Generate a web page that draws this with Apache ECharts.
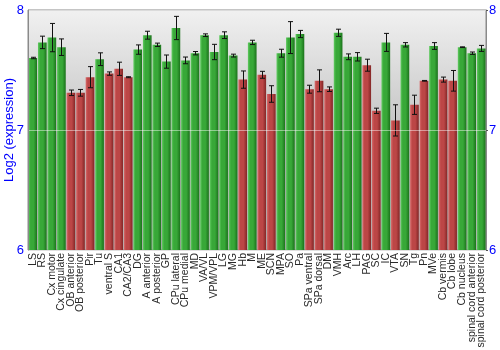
<!DOCTYPE html>
<html>
<head>
<meta charset="utf-8">
<script src="https://cdn.jsdelivr.net/npm/echarts@6/dist/echarts.min.js"></script>
<style>
  html, body { margin: 0; padding: 0; background: #ffffff; }
  #chart { width: 500px; height: 350px; }
</style>
</head>
<body>
<div id="chart"></div>
<script>
// Brain regions along the x axis
const regions = [
  'LS', 'RS', 'Cx motor', 'Cx cingulate', 'OB anterior', 'OB posterior', 'Pir', 'Tu',
  'ventral S', 'CA1', 'CA2/CA3', 'DG', 'A anterior', 'A posterior', 'GP', 'CPu lateral',
  'CPu medial', 'MD', 'VA/VL', 'VPM/VPL', 'LG', 'MG', 'Hb', 'M',
  'ME', 'SCN', 'MPA', 'SO', 'Pa', 'SPa ventral', 'SPa dorsal', 'DM',
  'VMH', 'Arc', 'LH', 'PAG', 'SC', 'IC', 'VTA', 'SN',
  'Tg', 'Pn', 'MVe', 'Cb vermis', 'Cb lobe', 'Cb nucleus', 'spinal cord anterior', 'spinal cord posterior'
];

// Mean log2 expression per region
const meanExpr = [
  7.60, 7.73, 7.77, 7.69, 7.31, 7.31, 7.44, 7.59,
  7.47, 7.51, 7.44, 7.67, 7.79, 7.71, 7.57, 7.85,
  7.58, 7.64, 7.79, 7.65, 7.79, 7.62, 7.42, 7.73,
  7.46, 7.30, 7.64, 7.77, 7.80, 7.34, 7.41, 7.34,
  7.81, 7.61, 7.61, 7.54, 7.16, 7.73, 7.08, 7.71,
  7.21, 7.41, 7.70, 7.42, 7.41, 7.69, 7.64, 7.68
];

// Half-width of the error bar (standard error)
const stdErr = [
  0.006, 0.052, 0.118, 0.069, 0.023, 0.028, 0.088, 0.053,
  0.014, 0.055, 0.004, 0.039, 0.033, 0.014, 0.055, 0.097,
  0.028, 0.014, 0.011, 0.064, 0.028, 0.012, 0.072, 0.018,
  0.029, 0.069, 0.033, 0.133, 0.030, 0.033, 0.091, 0.019,
  0.030, 0.024, 0.035, 0.050, 0.022, 0.075, 0.130, 0.018,
  0.080, 0.003, 0.028, 0.021, 0.086, 0.003, 0.010, 0.025
];

// Expression class of each region: 'high' bars are green, 'low' bars are red
const exprClass = [
  'high', 'high', 'high', 'high', 'low', 'low', 'low', 'high',
  'low', 'low', 'low', 'high', 'high', 'high', 'high', 'high',
  'high', 'high', 'high', 'high', 'high', 'high', 'low', 'high',
  'low', 'low', 'high', 'high', 'high', 'low', 'low', 'low',
  'high', 'high', 'high', 'low', 'low', 'high', 'low', 'high',
  'low', 'low', 'high', 'low', 'low', 'high', 'high', 'high'
];

// Y axis range, tick step and title
const yMin = 6, yMax = 8, yStep = 1;
const yTitle = 'Log2 (expression)';

function cylinder(light, mid, dark) {
  return new echarts.graphic.LinearGradient(0, 0, 1, 0, [
    { offset: 0, color: light },
    { offset: 0.25, color: mid },
    { offset: 0.6, color: mid },
    { offset: 1, color: dark }
  ]);
}
const fills = {
  high: cylinder('#62cc62', '#38a838', '#1b721b'),
  low: cylinder('#d86c6c', '#bc4646', '#822626')
};

const fontFamily = 'Liberation Sans, Arial, sans-serif';
const chart = echarts.init(document.getElementById('chart'), null, { renderer: 'canvas' });

chart.setOption({
  animation: false,
  grid: {
    left: 28, right: 14, top: 10, bottom: 100,
    containLabel: false,
    outerBoundsMode: 'none',
    show: true,
    borderColor: '#8a8a8a',
    borderWidth: 1,
    backgroundColor: new echarts.graphic.LinearGradient(0, 0, 0, 1, [
      { offset: 0, color: '#f1f1f1' },
      { offset: 0.5, color: '#c4c4c4' },
      { offset: 1, color: '#b4b4b4' }
    ])
  },
  // vertical axis title, left of the tick labels
  graphic: [{
    type: 'text',
    x: 9,
    y: 130,
    rotation: Math.PI / 2,
    style: {
      text: yTitle,
      fill: '#0000ff',
      font: '13px ' + fontFamily,
      align: 'center',
      verticalAlign: 'middle'
    }
  }],
  xAxis: {
    type: 'category',
    data: regions,
    axisLine: { show: false },
    axisTick: { show: false },
    axisLabel: {
      interval: 0,
      rotate: 90,
      margin: 3,
      fontSize: 10.5,
      fontFamily: fontFamily,
      color: '#2a2a2a'
    }
  },
  yAxis: [
    {
      type: 'value',
      min: yMin, max: yMax, interval: yStep,
      position: 'left',
      z: 5,
      axisLine: { show: true, lineStyle: { color: '#8a8a8a' } },
      axisTick: { show: false },
      axisLabel: { color: '#0000ff', fontSize: 13, margin: 4, fontFamily: fontFamily },
      splitLine: { show: true, lineStyle: { color: 'rgba(255,255,255,0.45)', width: 1 } }
    },
    {
      type: 'value',
      min: yMin, max: yMax, interval: yStep,
      position: 'right',
      axisLine: { show: true, lineStyle: { color: '#8a8a8a' } },
      axisTick: { show: true, length: 2, lineStyle: { color: '#555' } },
      axisLabel: { color: '#0000ff', fontSize: 13, margin: 3, fontFamily: fontFamily },
      splitLine: { show: false }
    }
  ],
  series: [
    {
      type: 'bar',
      barCategoryGap: '9%',
      data: meanExpr.map((v, i) => ({ value: v, itemStyle: { color: fills[exprClass[i]] } }))
    },
    {
      type: 'custom',
      z: 4,
      data: meanExpr.map((v, i) => [i, v - stdErr[i], v + stdErr[i]]),
      renderItem: function (params, api) {
        const lo = api.coord([api.value(0), api.value(1)]);
        const hi = api.coord([api.value(0), api.value(2)]);
        const x = Math.round(lo[0]) + 0.5;
        const half = 2.5;
        const style = { stroke: '#111', lineWidth: 1 };
        return {
          type: 'group',
          children: [
            { type: 'line', shape: { x1: x, y1: hi[1], x2: x, y2: lo[1] }, style: style },
            { type: 'line', shape: { x1: x - half, y1: hi[1], x2: x + half, y2: hi[1] }, style: style },
            { type: 'line', shape: { x1: x - half, y1: lo[1], x2: x + half, y2: lo[1] }, style: style }
          ]
        };
      }
    }
  ]
});
</script>
</body>
</html>
